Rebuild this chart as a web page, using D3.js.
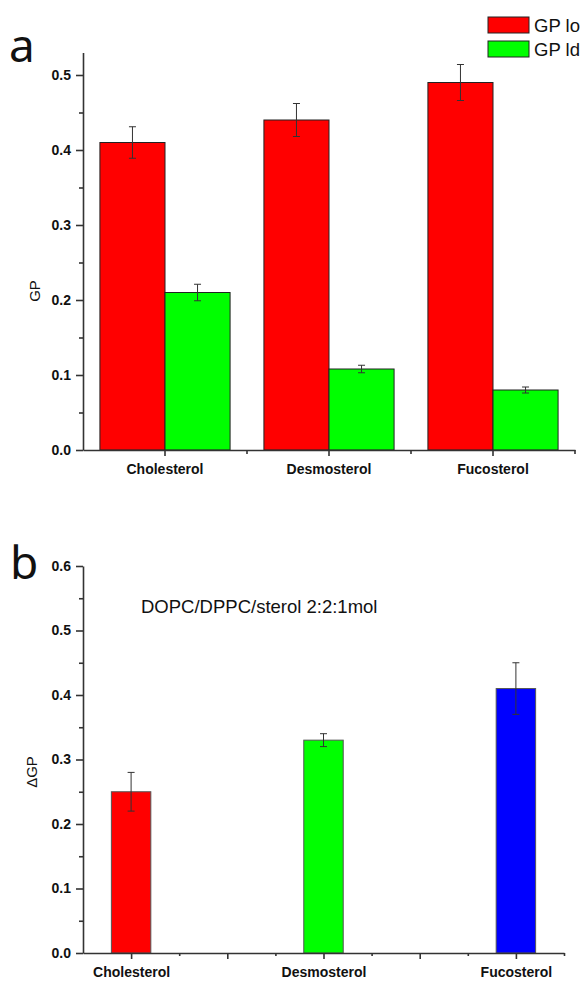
<!DOCTYPE html>
<html><head><meta charset="utf-8">
<script src="https://cdn.jsdelivr.net/npm/d3@7"></script>
<style>body{margin:0;background:#fff}svg{display:block}</style>
</head><body>
<script>
// ---- data ----
const categories = ["Cholesterol", "Desmosterol", "Fucosterol"];
const seriesNames = ["GP lo", "GP ld"];
const gpLo = [0.41, 0.44, 0.49];
const gpLoErr = [0.021, 0.022, 0.024];
const gpLd = [0.21, 0.108, 0.08];
const gpLdErr = [0.011, 0.005, 0.004];
const deltaGP = [0.25, 0.33, 0.41];
const deltaGPErr = [0.03, 0.01, 0.04];
const deltaPos = [1, 3, 5];
const yTicksA = [0, 0.1, 0.2, 0.3, 0.4, 0.5];
const yTicksB = [0, 0.1, 0.2, 0.3, 0.4, 0.5, 0.6];
const annotation = "DOPC/DPPC/sterol 2:2:1mol";

const W = 584, H = 982;
const svg = d3.select("body").append("svg").attr("width", W).attr("height", H);
const FONT = "'Liberation Sans', Arial, sans-serif";
const AX = "#333";

function styleAxis(g) {
  g.selectAll("path.domain").attr("stroke", AX).attr("stroke-width", 1.6);
  g.selectAll(".tick line").attr("stroke", AX).attr("stroke-width", 1.6);
  g.selectAll(".tick text").attr("font-family", FONT).attr("font-size", 14)
    .attr("font-weight", "bold").attr("fill", "#111");
}
function errBar(g, x, y0, y1, cap) {
  g.append("line").attr("x1", x).attr("x2", x).attr("y1", y0).attr("y2", y1)
    .attr("stroke", "#333").attr("stroke-width", 1);
  [y0, y1].forEach(yy => g.append("line").attr("x1", x - cap).attr("x2", x + cap)
    .attr("y1", yy).attr("y2", yy).attr("stroke", "#333").attr("stroke-width", 1));
}

// ================= Panel a =================
const ya = d3.scaleLinear().domain([0, 0.53]).range([450, 450 - 0.53 * 750]);
const xa = d3.scaleBand().domain(categories).range([83, 575]).padding(0);
const xs = d3.scaleBand().domain(seriesNames).range([0, xa.bandwidth()]).paddingInner(0).paddingOuter(0.26);
const colA = d3.scaleOrdinal().domain(seriesNames).range(["#ff0000", "#00ff00"]);

const gA = svg.append("g");
const dataA = categories.map((c, i) => [
  { c, s: "GP lo", v: gpLo[i], e: gpLoErr[i] },
  { c, s: "GP ld", v: gpLd[i], e: gpLdErr[i] }
]).flat();

gA.selectAll("rect.bar").data(dataA).join("rect").attr("class", "bar")
  .attr("x", d => xa(d.c) + xs(d.s)).attr("width", xs.bandwidth())
  .attr("y", d => ya(d.v)).attr("height", d => ya(0) - ya(d.v))
  .attr("fill", d => colA(d.s)).attr("stroke", "#222").attr("stroke-width", 1);
dataA.forEach(d => errBar(gA, xa(d.c) + xs(d.s) + xs.bandwidth() / 2, ya(d.v + d.e), ya(d.v - d.e), 3.5));

// y axis a
const yAxA = gA.append("g").attr("transform", "translate(83,0)")
  .call(d3.axisLeft(ya).tickValues(yTicksA).tickFormat(d3.format(".1f")).tickSize(7).tickSizeOuter(0).tickPadding(5));
styleAxis(yAxA);
const yMinA = gA.append("g").attr("transform", "translate(83,0)")
  .call(d3.axisLeft(ya).tickValues([0.05, 0.15, 0.25, 0.35, 0.45]).tickFormat("").tickSize(4).tickSizeOuter(0));
yMinA.select("path.domain").remove(); styleAxis(yMinA);
// x axis a
const xAxA = gA.append("g").attr("transform", "translate(0,450)")
  .call(d3.axisBottom(xa).tickSize(6).tickSizeOuter(0).tickPadding(8));
styleAxis(xAxA);
const edges = categories.map(c => xa(c) + xa.bandwidth());
gA.selectAll("line.minx").data(edges).join("line").attr("class", "minx")
  .attr("x1", d => d).attr("x2", d => d).attr("y1", 450).attr("y2", 454)
  .attr("stroke", AX).attr("stroke-width", 1.6);

gA.append("text").attr("transform", "translate(40,291) rotate(-90)").attr("text-anchor", "middle")
  .attr("font-family", FONT).attr("font-size", 15).attr("fill", "#111").text("GP");
gA.append("text").attr("x", 9).attr("y", 62).attr("font-family", "'Noto Sans', sans-serif")
  .attr("font-size", 46).attr("fill", "#111").text("a");

// legend
const leg = gA.append("g");
seriesNames.forEach((s, i) => {
  leg.append("rect").attr("x", 488).attr("y", 17 + i * 24).attr("width", 41).attr("height", 16)
    .attr("fill", colA(s)).attr("stroke", "#222").attr("stroke-width", 1);
  leg.append("text").attr("x", 534).attr("y", 32 + i * 24).attr("font-family", FONT)
    .attr("font-size", 18.5).attr("fill", "#111").text(s);
});

// ================= Panel b =================
const yb = d3.scaleLinear().domain([0, 0.6]).range([953, 566]);
const xb = d3.scaleLinear().domain([0.5, 5.5]).range([83, 564]);
const colB = ["#ff0000", "#00ff00", "#0000ff"];
const bw = xb(0.41) - xb(0);
const gB = svg.append("g");
const dataB = categories.map((c, i) => ({ c, p: deltaPos[i], v: deltaGP[i], e: deltaGPErr[i], col: colB[i] }));

gB.selectAll("rect.bar").data(dataB).join("rect").attr("class", "bar")
  .attr("x", d => xb(d.p) - bw / 2).attr("width", bw)
  .attr("y", d => yb(d.v)).attr("height", d => yb(0) - yb(d.v))
  .attr("fill", d => d.col).attr("stroke", "#555").attr("stroke-width", 1);
dataB.forEach(d => errBar(gB, xb(d.p), yb(d.v + d.e), yb(d.v - d.e), 3.5));

const yAxB = gB.append("g").attr("transform", "translate(83,0)")
  .call(d3.axisLeft(yb).tickValues(yTicksB).tickFormat(d3.format(".1f")).tickSize(7).tickSizeOuter(0).tickPadding(5));
styleAxis(yAxB);
const yMinB = gB.append("g").attr("transform", "translate(83,0)")
  .call(d3.axisLeft(yb).tickValues([0.05, 0.15, 0.25, 0.35, 0.45, 0.55]).tickFormat("").tickSize(4).tickSizeOuter(0));
yMinB.select("path.domain").remove(); styleAxis(yMinB);

const labelMap = {}; deltaPos.forEach((p, i) => labelMap[p] = categories[i]);
const xAxB = gB.append("g").attr("transform", "translate(0,953)")
  .call(d3.axisBottom(xb).tickValues([1, 2, 3, 4, 5]).tickFormat(d => labelMap[d] || "").tickSize(6).tickSizeOuter(0).tickPadding(8));
styleAxis(xAxB);
const xMinB = gB.append("g").attr("transform", "translate(0,953)")
  .call(d3.axisBottom(xb).tickValues([1.5, 2.5, 3.5, 4.5, 5.5]).tickFormat("").tickSize(3).tickSizeOuter(0));
xMinB.select("path.domain").remove(); styleAxis(xMinB);

gB.append("text").attr("transform", "translate(37,772) rotate(-90)").attr("text-anchor", "middle")
  .attr("font-family", FONT).attr("font-size", 15).attr("fill", "#111").text("ΔGP");
gB.append("text").attr("x", 10).attr("y", 579).attr("font-family", "'Noto Sans', sans-serif")
  .attr("font-size", 46).attr("fill", "#111").text("b");
gB.append("text").attr("x", 141).attr("y", 613).attr("font-family", FONT)
  .attr("font-size", 18.5).attr("fill", "#111").text(annotation);
</script>
</body></html>
